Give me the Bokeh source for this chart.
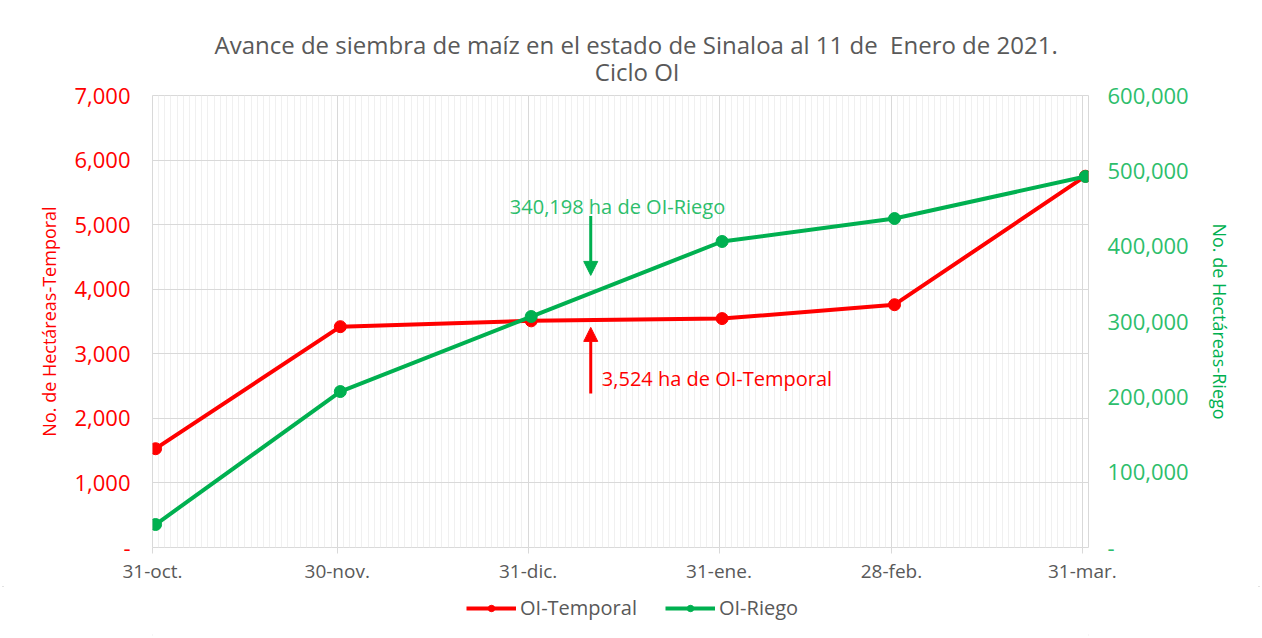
import pandas as pd
from bokeh.plotting import figure
from bokeh.layouts import column
from bokeh.models import (ColumnDataSource, Range1d, LinearAxis, FixedTicker,
                          CustomJSTickFormatter, Legend, LegendItem, Arrow,
                          NormalHead, Label)
from bokeh.embed import file_html
from bokeh.resources import INLINE

# ---------------- data ----------------
dates = ["2020-10-31", "2020-11-30", "2020-12-31", "2021-01-31", "2021-02-28", "2021-03-31"]
tick_labels = ["31-oct.", "30-nov.", "31-dic.", "31-ene.", "28-feb.", "31-mar."]
temporal = [1530, 3420, 3510, 3545, 3760, 5750]
riego = [30500, 207000, 306600, 406200, 436700, 492500]
cut_date = "2021-01-11"
cut_temporal = 3524
cut_riego = 340198
series_names = ["OI-Temporal", "OI-Riego"]
title_line1 = "Avance de siembra de maíz en el estado de Sinaloa al 11 de\u00a0 Enero de 2021."
title_line2 = "Ciclo OI"

RED = "#FF0000"
GREEN = "#00B050"
LGREEN = "#2DBE6C"
GRAY = "#595959"
FONT = "Open Sans"

ts = pd.to_datetime(dates)
xs = ts + pd.Timedelta(hours=12)
src = ColumnDataSource(dict(x=xs, temporal=temporal, riego=riego))

x_start = ts[0]
x_end = ts[-1] + pd.Timedelta(days=1)

W = 1262
H_MAIN = 586
H_LEG = 638 - H_MAIN

p = figure(width=W, height=H_MAIN, output_backend="svg", toolbar_location=None,
           x_axis_type="datetime",
           x_range=Range1d(x_start, x_end), y_range=Range1d(0, 7000),
           min_border_left=152, min_border_right=174, min_border_top=95,
           min_border_bottom=H_MAIN - 547)
p.extra_y_ranges = {"riego": Range1d(0, 600000)}
p.background_fill_color = "white"
p.border_fill_color = "white"
p.outline_line_color = "#D9D9D9"
p.outline_line_width = 1

# title: two lines, second one centred under the first with no-break spaces
pad = "\u00a0" * 61
p.title.text = title_line1 + "\n" + pad + title_line2
p.title.align = "left"
p.title.vertical_align = "top"
p.title.offset = 62
p.title.text_font = FONT
p.title.text_font_size = "24px"
p.title.text_font_style = "normal"
p.title.text_color = GRAY
p.title.text_line_height = 0.83
p.title.standoff = 12

# x axis
ms = lambda t: t.value // 10**6
major = [ms(t) for t in ts]
minor = [ms(t) for t in pd.date_range(x_start, x_end, freq="D")]
p.xaxis.ticker = FixedTicker(ticks=major, minor_ticks=minor)
p.xaxis.major_label_overrides = {m: lab for m, lab in zip(major, tick_labels)}
p.xaxis.axis_line_color = None
p.xaxis.major_tick_line_color = "#D9D9D9"
p.xaxis.major_tick_out = 6
p.xaxis.major_tick_in = 0
p.xaxis.minor_tick_line_color = None
p.xaxis.major_label_text_font = FONT
p.xaxis.major_label_text_font_size = "19px"
p.xaxis.major_label_text_color = GRAY
p.xaxis.major_label_standoff = 4

p.xgrid.grid_line_color = "#D9D9D9"
p.xgrid.minor_grid_line_color = "#F0F0F0"
p.ygrid.grid_line_color = "#D9D9D9"

fmt_code = "return tick == 0 ? '-' : tick.toLocaleString('en-US');"

# left axis
p.yaxis.ticker = FixedTicker(ticks=list(range(0, 7001, 1000)))
p.yaxis.formatter = CustomJSTickFormatter(code=fmt_code)
p.yaxis.axis_label = "No. de Hectáreas-Temporal"
p.yaxis.axis_label_text_font = FONT
p.yaxis.axis_label_text_font_size = "18px"
p.yaxis.axis_label_text_font_style = "normal"
p.yaxis.axis_label_text_color = RED
p.yaxis.major_label_text_font = FONT
p.yaxis.major_label_text_font_size = "22px"
p.yaxis.major_label_text_color = RED
p.yaxis.axis_line_color = None
p.yaxis.major_tick_line_color = None
p.yaxis.minor_tick_line_color = None
p.yaxis.major_label_standoff = 16
p.yaxis.axis_label_standoff = 10

# right axis
ra = LinearAxis(y_range_name="riego", ticker=FixedTicker(ticks=list(range(0, 600001, 100000))),
                formatter=CustomJSTickFormatter(code=fmt_code),
                axis_label="No. de Hectáreas-Riego")
ra.axis_label_text_font = FONT
ra.axis_label_text_font_size = "18px"
ra.axis_label_text_font_style = "normal"
ra.axis_label_text_color = GREEN
ra.major_label_text_font = FONT
ra.major_label_text_font_size = "22px"
ra.major_label_text_color = LGREEN
ra.axis_line_color = None
ra.major_tick_line_color = None
ra.minor_tick_line_color = None
ra.major_label_standoff = 13
ra.axis_label_standoff = 16
p.add_layout(ra, "right")

# series
p.line("x", "temporal", source=src, line_color=RED, line_width=4)
p.scatter("x", "temporal", source=src, size=12, fill_color=RED, line_color=RED)
p.line("x", "riego", source=src, line_color=GREEN, line_width=4, y_range_name="riego")
p.scatter("x", "riego", source=src, size=12, fill_color=GREEN, line_color=GREEN,
          y_range_name="riego")

# annotations
cx = pd.Timestamp(cut_date)
ax = cx - pd.Timedelta(hours=20)
p.add_layout(Arrow(end=NormalHead(size=14, fill_color=GREEN, line_color=GREEN),
                   x_start=ax, y_start=cut_riego + 100000, x_end=ax, y_end=cut_riego + 21000,
                   line_color=GREEN, line_width=3, y_range_name="riego"))
p.add_layout(Label(x=cx, y=cut_riego + 112000, y_range_name="riego",
                   text=f"{cut_riego:,} ha de OI-Riego", x_offset=-86,
                   text_align="left", text_baseline="middle",
                   text_font=FONT, text_font_size="20px", text_color=LGREEN))
p.add_layout(Arrow(end=NormalHead(size=14, fill_color=RED, line_color=RED),
                   x_start=ax, y_start=cut_temporal - 1140, x_end=ax, y_end=cut_temporal - 115,
                   line_color=RED, line_width=3))
p.add_layout(Label(x=cx, y=cut_temporal - 905,
                   text=f"{cut_temporal:,} ha de OI-Temporal", x_offset=6,
                   text_align="left", text_baseline="middle",
                   text_font=FONT, text_font_size="20px", text_color=RED))

# legend strip below the chart (its own small figure)
pl = figure(width=W, height=H_LEG, output_backend="svg", toolbar_location=None,
            x_range=Range1d(0, 1), y_range=Range1d(0, 1),
            x_axis_location=None, y_axis_location=None,
            min_border=0, outline_line_color=None)
pl.background_fill_color = "white"
pl.border_fill_color = "white"
pl.grid.visible = False
r_items = []
for name, col in zip(series_names, [RED, GREEN]):
    # proxy glyphs placed outside the visible range, only for the legend swatches
    ln = pl.line(x=[-5, -4], y=[-5, -4], line_color=col, line_width=4)
    sc = pl.scatter(x=[-5], y=[-5], size=12, fill_color=col, line_color=col)
    r_items.append(LegendItem(label=name, renderers=[ln, sc]))
legend = Legend(items=r_items, orientation="horizontal", location=(314, 17),
                label_text_font=FONT, label_text_font_size="20px", label_text_color=GRAY,
                glyph_width=50, glyph_height=16, spacing=28, label_standoff=4,
                border_line_color=None, background_fill_alpha=0, margin=0, padding=4)
pl.add_layout(legend)

layout = column(p, pl, spacing=0,
                styles={"outline": "2px solid #D9D9D9", "outline-offset": "-4px"})

open("out.html", "w").write(file_html(layout, INLINE))
